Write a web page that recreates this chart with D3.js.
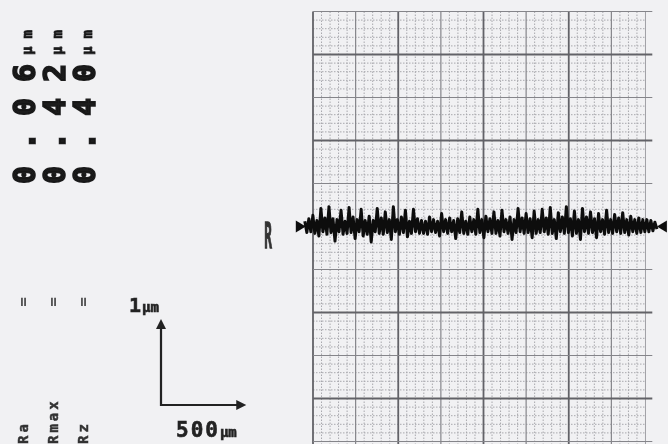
<!DOCTYPE html>
<html>
<head>
<meta charset="utf-8">
<script src="https://cdn.jsdelivr.net/npm/d3@7"></script>
<style>
  body { margin: 0; background: #f1f1f3; }
  svg { display: block; }
</style>
</head>
<body>
<div id="plot"></div>
<script>
// roughness parameters
const paramNames = ["Ra", "Rmax", "Rz"];
const paramValues = ["0.06", "0.42", "0.40"];
const unit = "\u00b5m";

// scale bar
const barVertical = 1;      // µm
const barHorizontal = 500;  // µm

// profile, heights in nm, sampled along the trace
const profileStart = -48;   // µm
const profileStep = 11.8;   // µm
const profileNm = [
  60,-70,90,-60,130,-80,70,-110,210,-60,100,-90,230,-70,90,-170,80,-60,190,-90,
  60,-80,220,-70,110,-140,80,-60,200,-110,70,-90,120,-180,70,-60,210,-80,100,-90,
  170,-70,80,-150,230,-60,80,-90,110,-70,190,-120,60,-80,200,-60,90,-80,
  70,-80,60,-90,110,-60,80,-70,60,-110,150,-60,80,-80,100,-60,70,-140,90,-70,
  170,-80,60,-90,110,-60,80,-90,200,-70,80,-130,120,-60,90,-80,170,-80,70,-110,
  190,-60,80,-80,110,-150,80,-70,210,-60,100,-80,150,-70,90,-130,180,-80,80,
  -70,200,-60,100,-90,220,-80,80,-140,160,-60,110,-80,230,-70,90,-110,180,-80,80,
  -150,210,-60,110,-80,170,-70,90,-130,150,-60,80,-90,190,-70,80,-80,140,-60,100,
  -80,160,-70,80,-100,120,-60,80,-80,100,-70,80,-60,80,-60,70,-50,50,-30
];

const width = 668, height = 444;

const svg = d3.select("#plot").append("svg")
  .attr("width", width)
  .attr("height", height);

svg.append("defs").append("filter")
  .attr("id", "scan")
  .append("feGaussianBlur")
  .attr("stdDeviation", 0.6);

const g = svg.append("g").attr("filter", "url(#scan)");

// chart paper: 250 µm per major cell across, 0.5 µm per major cell up
const x = d3.scaleLinear().domain([0, 2000]).range([313, 654]);
const y = d3.scaleLinear().domain([-2.5, 2.5]).range([441.5, 11.5]);

const xRight = 1950;

// minor dotted grid
g.append("g").selectAll("line")
  .data(d3.range(50, xRight, 50).filter(d => d % 250 !== 0))
  .join("line")
  .attr("x1", d => x(d)).attr("x2", d => x(d))
  .attr("y1", y(2.5)).attr("y2", height)
  .attr("stroke", "#a8a8ad")
  .attr("stroke-dasharray", "1.5,1.5");

g.append("g").selectAll("line")
  .data(d3.range(-25, 26).filter(d => d % 5 !== 0).map(d => d / 10))
  .join("line")
  .attr("x1", x(0)).attr("x2", x(xRight))
  .attr("y1", d => y(d)).attr("y2", d => y(d))
  .attr("stroke", "#a8a8ad")
  .attr("stroke-dasharray", "1.5,1.5");

// major grid
g.append("g").selectAll("line")
  .data(d3.range(0, 2000, 250))
  .join("line")
  .attr("x1", d => x(d)).attr("x2", d => x(d))
  .attr("y1", y(2.5)).attr("y2", height)
  .attr("stroke", d => d % 500 === 0 ? "#626267" : "#85858a")
  .attr("stroke-width", d => d % 500 === 0 ? 1.8 : 1.2);

g.append("line")
  .attr("x1", x(xRight)).attr("x2", x(xRight))
  .attr("y1", y(2.5)).attr("y2", height)
  .attr("stroke", "#a0a0a5");

g.append("g").selectAll("line")
  .data(d3.range(-5, 6).map(d => d / 2))
  .join("line")
  .attr("x1", x(0)).attr("x2", x(1990))
  .attr("y1", d => y(d)).attr("y2", d => y(d))
  .attr("stroke", d => Math.abs(d) % 1 === 0 ? "#626267" : "#85858a")
  .attr("stroke-width", d => Math.abs(d) % 1 === 0 ? 1.8 : 1.2);

// profile trace
const profile = profileNm.map((v, i) => [profileStart + i * profileStep, v / 1000]);

const line = d3.line()
  .x(d => x(d[0]))
  .y(d => y(d[1]));

g.append("path")
  .datum(profile)
  .attr("d", line)
  .attr("fill", "none")
  .attr("stroke", "#0d0d0d")
  .attr("stroke-width", 3)
  .attr("stroke-linejoin", "round");

// start / end markers
const x0 = x(profile[0][0]), x1 = x(profile[profile.length - 1][0]);
g.append("path")
  .attr("d", `M${x0 - 9},${y(0) - 6}L${x0 + 1},${y(0)}L${x0 - 9},${y(0) + 6}Z`)
  .attr("fill", "#111");
g.append("path")
  .attr("d", `M${x1 + 10},${y(0) - 6}L${x1},${y(0)}L${x1 + 10},${y(0) + 6}Z`)
  .attr("fill", "#111");

// reference label left of trace
g.append("text")
  .attr("transform", `translate(268,248) scale(0.85,2.4)`)
  .attr("text-anchor", "middle")
  .style("font-family", "DejaVu Sans Mono")
  .style("font-weight", "bold")
  .style("font-size", "15px")
  .attr("fill", "#333")
  .attr("stroke", "#333")
  .attr("stroke-width", 0.6)
  .text("R");

// parameter columns, printed sideways
const colX = [35, 65, 95];

g.selectAll(".pval")
  .data(paramValues)
  .join("text")
  .attr("class", "pval")
  .attr("transform", (d, i) => `translate(${colX[i]},184) rotate(-90)`)
  .attr("textLength", 120)
  .attr("lengthAdjust", "spacing")
  .style("font-family", "DejaVu Sans Mono")
  .style("font-weight", "bold")
  .style("font-size", "30px")
  .attr("fill", "#1a1a1a")
  .attr("stroke", "#1a1a1a")
  .attr("stroke-width", 1.6)
  .text(d => d);

g.selectAll(".punit")
  .data(paramValues)
  .join("text")
  .attr("class", "punit")
  .attr("transform", (d, i) => `translate(${colX[i] - 3},55) rotate(-90)`)
  .attr("textLength", 25)
  .attr("lengthAdjust", "spacing")
  .style("font-family", "DejaVu Sans Mono")
  .style("font-weight", "bold")
  .style("font-size", "14px")
  .attr("fill", "#1a1a1a")
  .attr("stroke", "#1a1a1a")
  .attr("stroke-width", 0.8)
  .text(unit);

g.selectAll(".peq")
  .data(paramNames)
  .join("text")
  .attr("class", "peq")
  .attr("transform", (d, i) => `translate(${colX[i] - 7},302) rotate(-90)`)
  .attr("text-anchor", "middle")
  .style("font-family", "DejaVu Sans Mono")
  .style("font-weight", "bold")
  .style("font-size", "16px")
  .attr("fill", "#555")
  .text("=");

g.selectAll(".pname")
  .data(paramNames)
  .join("text")
  .attr("class", "pname")
  .attr("transform", (d, i) => `translate(${colX[i] - 7},444) rotate(-90)`)
  .attr("letter-spacing", 3)
  .style("font-family", "DejaVu Sans Mono")
  .style("font-weight", "bold")
  .style("font-size", "14px")
  .attr("fill", "#333")
  .attr("stroke", "#333")
  .attr("stroke-width", 0.5)
  .text(d => d);

// scale bar
const bx = 161, by = 405;
const vLen = y(0) - y(barVertical);
const hLen = x(barHorizontal) - x(0);

g.append("path")
  .attr("d", `M${bx},${by - vLen + 6}V${by}H${bx + hLen - 6}`)
  .attr("fill", "none")
  .attr("stroke", "#222")
  .attr("stroke-width", 2.2);
g.append("path")
  .attr("d", `M${bx - 5},${by - vLen + 10}L${bx},${by - vLen}L${bx + 5},${by - vLen + 10}Z`)
  .attr("fill", "#222");
g.append("path")
  .attr("d", `M${bx + hLen - 10},${by - 5}L${bx + hLen},${by}L${bx + hLen - 10},${by + 5}Z`)
  .attr("fill", "#222");

const t1 = g.append("text")
  .attr("x", 129).attr("y", 312)
  .style("font-family", "DejaVu Sans Mono")
  .style("font-weight", "bold")
  .attr("fill", "#222")
  .attr("stroke", "#222")
  .attr("stroke-width", 0.6);
t1.append("tspan").style("font-size", "20px").text(barVertical);
t1.append("tspan").style("font-size", "14px").attr("dx", 1).text(unit);

const t2 = g.append("text")
  .attr("x", 176).attr("y", 437)
  .style("font-family", "DejaVu Sans Mono")
  .style("font-weight", "bold")
  .attr("fill", "#222")
  .attr("stroke", "#222")
  .attr("stroke-width", 0.6);
t2.append("tspan").style("font-size", "21px").attr("letter-spacing", 2).text(barHorizontal);
t2.append("tspan").style("font-size", "14px").text(unit);
</script>
</body>
</html>
